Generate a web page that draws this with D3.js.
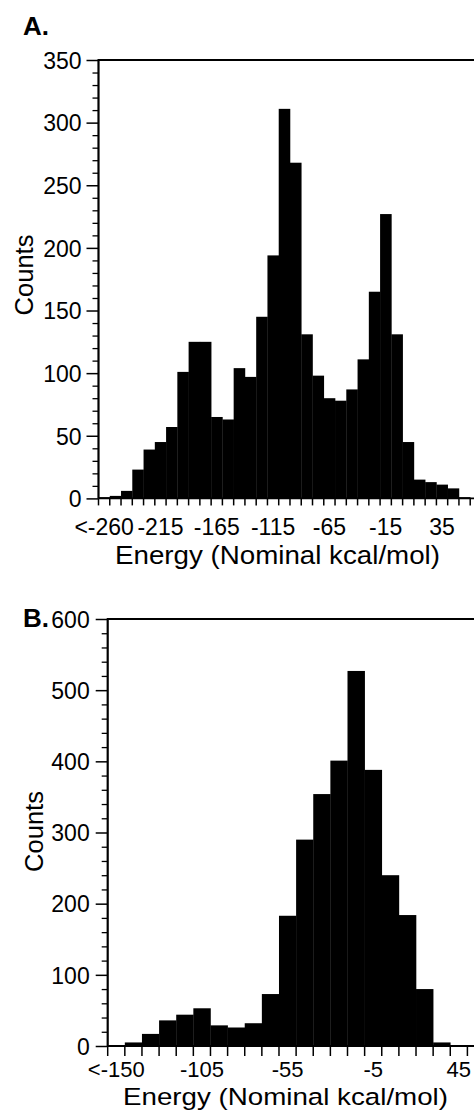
<!DOCTYPE html>
<html>
<head>
<meta charset="utf-8">
<script src="https://cdn.jsdelivr.net/npm/d3@7"></script>
<style>
  html, body { margin: 0; padding: 0; background: #fff; }
  svg { display: block; }
  text { font-family: "Liberation Sans", Arial, Helvetica, sans-serif; fill: #000; }
</style>
</head>
<body>
<svg id="chart" width="474" height="1110"></svg>
<script>
// ---------- Panel A data ----------
const catsA = ["<-260","-255","-245","-235","-225","-215","-205","-195","-185","-175",
  "-165","-155","-145","-135","-125","-115","-105","-95","-85","-75",
  "-65","-55","-45","-35","-25","-15","-5","5","15","25","35","45","55"];
const countsA = [1, 2, 6, 23, 39, 45, 57, 101, 125, 125,
  65, 63, 104, 97, 145, 194, 311, 268, 131, 98,
  80, 78, 87, 111, 165, 227, 131, 45, 15, 13, 11, 8, 1];
const shownA = ["<-260","-215","-165","-115","-65","-15","35"];
const yMajorA = [0, 50, 100, 150, 200, 250, 300, 350];

// ---------- Panel B data ----------
const catsB = ["<-150","-145","-135","-125","-115","-105","-95","-85","-75","-65",
  "-55","-45","-35","-25","-15","-5","5","15","25","35","45"];
const countsB = [1, 5, 17, 36, 44, 53, 29, 26, 32, 73,
  183, 290, 354, 401, 527, 388, 240, 184, 80, 5, 0];
const shownB = ["<-150","-105","-55","-5","45"];
const yMajorB = [0, 100, 200, 300, 400, 500, 600];

const svg = d3.select("#chart");
const W = 474;

function panel(cfg) {
  const g = svg.append("g");
  const x = d3.scaleBand().domain(cfg.cats).range([cfg.x0, cfg.x1]).paddingInner(0).paddingOuter(0);
  const y = d3.scaleLinear().domain([0, cfg.ymax]).range([cfg.yb, cfg.yt]);

  // bars
  g.selectAll("rect.bar").data(cfg.counts).join("rect")
    .attr("class", "bar")
    .attr("x", (d, i) => x(cfg.cats[i]))
    .attr("width", x.bandwidth() + 0.3)
    .attr("y", d => y(d))
    .attr("height", d => y(0) - y(d))
    .attr("fill", "#000");

  // minor y ticks
  const minor = d3.range(0, cfg.ymax + 1e-9, cfg.minorStep).filter(v => !cfg.yMajor.includes(v));
  const yMinorAxis = d3.axisLeft(y).tickValues(minor).tickSize(6).tickFormat("");
  const gm = g.append("g").attr("transform", `translate(${cfg.x0},0)`).call(yMinorAxis);
  gm.select(".domain").remove();
  gm.selectAll("line").attr("stroke-width", 1.3);

  // major y axis
  const yAxis = d3.axisLeft(y).tickValues(cfg.yMajor).tickSize(12).tickPadding(cfg.yPad);
  const gy = g.append("g").attr("transform", `translate(${cfg.x0},0)`).call(yAxis);
  gy.select(".domain").remove();
  gy.selectAll("line").attr("stroke-width", 1.5);
  gy.selectAll("text").attr("font-size", cfg.tickFont).attr("font-family", null).attr("dy", "0.36em");

  // axis lines
  g.append("line").attr("x1", cfg.x0).attr("x2", cfg.x0).attr("y1", cfg.yt).attr("y2", cfg.yb)
    .attr("stroke", "#000").attr("stroke-width", 2.2);
  g.append("line").attr("x1", cfg.x0 - 1).attr("x2", W).attr("y1", cfg.yt).attr("y2", cfg.yt)
    .attr("stroke", "#000").attr("stroke-width", 2.2);
  g.append("line").attr("x1", cfg.x0).attr("x2", W).attr("y1", cfg.yb).attr("y2", cfg.yb)
    .attr("stroke", "#000").attr("stroke-width", 1.8);

  // x ticks at bin boundaries
  const edges = cfg.cats.map(c => x(c)).concat([x.range()[1]]);
  g.selectAll("line.xt").data(edges).join("line")
    .attr("class", "xt")
    .attr("x1", d => d).attr("x2", d => d)
    .attr("y1", cfg.yb).attr("y2", cfg.yb + cfg.xTickLen)
    .attr("stroke", "#000").attr("stroke-width", 1.5);

  // x labels (bin centers)
  const xAxis = d3.axisBottom(x).tickValues(cfg.shown).tickSize(0).tickPadding(0);
  const gx = g.append("g").attr("transform", `translate(0,${cfg.yb})`).call(xAxis);
  gx.select(".domain").remove();
  gx.selectAll("text").attr("font-size", cfg.xTickFont).attr("font-family", null)
    .attr("dy", null).attr("y", cfg.xLabelDy);

  // titles
  g.append("text").attr("x", cfg.xTitleX).attr("y", cfg.xTitleY)
    .attr("text-anchor", "middle").attr("font-size", cfg.titleFont)
    .attr("textLength", 325).attr("lengthAdjust", "spacingAndGlyphs")
    .text("Energy (Nominal kcal/mol)");
  g.append("text").attr("transform", `translate(${cfg.yTitleX},${cfg.yTitleY}) rotate(-90)`)
    .attr("text-anchor", "middle").attr("font-size", cfg.yTitleFont)
    .text("Counts");
  g.append("text").attr("x", 23).attr("y", cfg.letterY)
    .attr("font-size", 26).attr("font-weight", "bold").text(cfg.letter);
}

panel({
  cats: catsA, counts: countsA, shown: shownA, yMajor: yMajorA, ymax: 350, minorStep: 10,
  x0: 98.5, x1: 470.2, yt: 60, yb: 498.4, yPad: 5,
  tickFont: 23, xTickFont: 23, titleFont: 26, yTitleFont: 25.5, xTickLen: 7, xLabelDy: 37,
  xTitleX: 277.5, xTitleY: 564, yTitleX: 33, yTitleY: 275,
  letter: "A.", letterY: 35
});

panel({
  cats: catsB, counts: countsB, shown: shownB, yMajor: yMajorB, ymax: 600, minorStep: 20,
  x0: 107.7, x1: 467.4, yt: 619, yb: 1046, yPad: 6,
  tickFont: 23, xTickFont: 22, titleFont: 24.5, yTitleFont: 25.5, xTickLen: 10, xLabelDy: 31,
  xTitleX: 285.5, xTitleY: 1104.5, yTitleX: 43, yTitleY: 831.5,
  letter: "B.", letterY: 627
});
</script>
</body>
</html>
